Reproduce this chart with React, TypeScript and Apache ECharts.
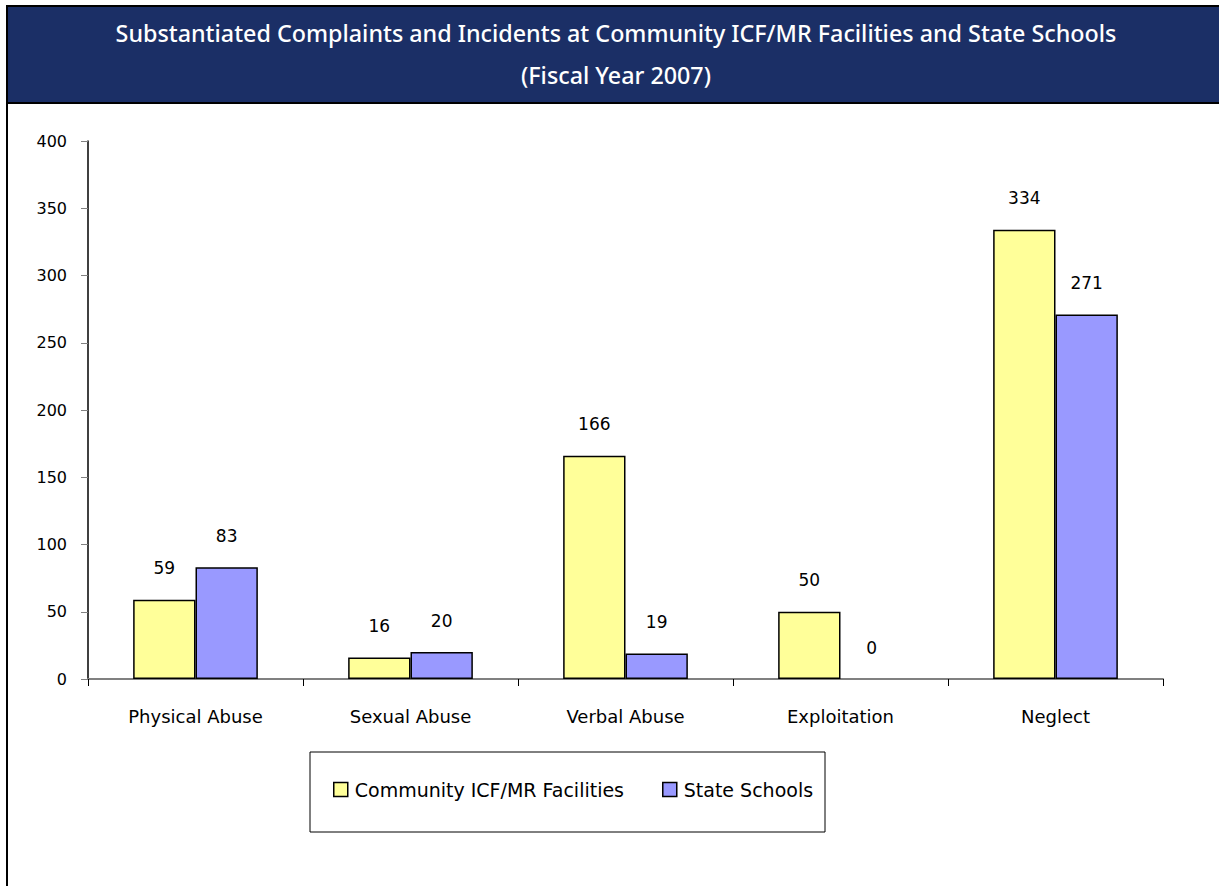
import React, { useEffect, useRef } from "react";
import * as echarts from "echarts";

const categories = ["Physical Abuse", "Sexual Abuse", "Verbal Abuse", "Exploitation", "Neglect"];
const communityValues = [59, 16, 166, 50, 334];
const stateSchoolValues = [83, 20, 19, 0, 271];
const seriesNames = ["Community ICF/MR Facilities", "State Schools"];
const titleLines = [
  "Substantiated Complaints and Incidents at Community ICF/MR Facilities and State Schools",
  "(Fiscal Year 2007)",
];

const FONT = "DejaVu Sans";
const TITLE_FONT = "Noto Sans";

export default function App() {
  const ref = useRef<HTMLDivElement>(null);
  useEffect(() => {
    if (!ref.current) return;
    const chart = echarts.init(ref.current, null, { renderer: "svg" });
    const labelStyle = {
      show: true,
      position: "top" as const,
      distance: 23,
      color: "#000",
      fontFamily: FONT,
      fontSize: 17,
    };
    const toData = (vals: number[]) =>
      vals.map((v) => (v === 0 ? { value: v, itemStyle: { borderWidth: 0 } } : v));
    chart.setOption({
      animation: false,
      backgroundColor: "#fff",
      textStyle: { fontFamily: FONT },
      grid: { left: 88, right: 56, top: 141, bottom: 207, containLabel: false },
      legend: {
        left: 333,
        top: 780,
        icon: "rect",
        itemWidth: 14,
        itemHeight: 14,
        itemGap: 38,
        padding: 0,
        textStyle: { fontFamily: FONT, fontSize: 19, color: "#000", padding: [0, 0, 0, 2] },
        data: seriesNames.map((n) => ({ name: n, itemStyle: { borderColor: "#000", borderWidth: 1.5 } })),
      },
      xAxis: {
        type: "category",
        data: categories,
        axisLine: { lineStyle: { color: "#808080", width: 2 } },
        axisTick: { show: true, length: 7, lineStyle: { color: "#000" } },
        axisLabel: { color: "#000", fontFamily: FONT, fontSize: 18, margin: 28 },
      },
      yAxis: {
        type: "value",
        min: 0,
        max: 400,
        interval: 50,
        axisLine: { show: true, lineStyle: { color: "#000", width: 1.5 } },
        axisTick: { show: true, length: 7, lineStyle: { color: "#808080" } },
        axisLabel: { color: "#000", fontFamily: FONT, fontSize: 16, margin: 21 },
        splitLine: { show: false },
      },
      series: [
        {
          name: seriesNames[0],
          type: "bar",
          data: toData(communityValues),
          barGap: "0%",
          barCategoryGap: "42%",
          itemStyle: { color: "#FFFF99", borderColor: "#000", borderWidth: 1.5 },
          label: labelStyle,
        },
        {
          name: seriesNames[1],
          type: "bar",
          data: toData(stateSchoolValues),
          barGap: "0%",
          barCategoryGap: "42%",
          itemStyle: { color: "#9999FF", borderColor: "#000", borderWidth: 1.5 },
          label: labelStyle,
        },
      ],
      graphic: [
        {
          type: "rect",
          shape: { x: 7, y: 6, width: 1230, height: 900 },
          style: { fill: "none", stroke: "#000", lineWidth: 2 },
          silent: true,
        },
        {
          type: "rect",
          shape: { x: 8, y: 7, width: 1220, height: 95 },
          style: { fill: "#1B2F66" },
          silent: true,
        },
        {
          type: "line",
          shape: { x1: 8, y1: 103, x2: 1219, y2: 103 },
          style: { stroke: "#000", lineWidth: 2 },
          silent: true,
        },
        {
          type: "text",
          x: 616,
          y: 33,
          style: {
            text: titleLines[0],
            fill: "#fff",
            font: `500 23.3px '${TITLE_FONT}'`,
            align: "center",
            verticalAlign: "middle",
          },
          silent: true,
        },
        {
          type: "text",
          x: 616,
          y: 75,
          style: {
            text: titleLines[1],
            fill: "#fff",
            font: `500 23.3px '${TITLE_FONT}'`,
            align: "center",
            verticalAlign: "middle",
          },
          silent: true,
        },
        {
          type: "rect",
          shape: { x: 310, y: 752, width: 515, height: 80 },
          style: { fill: "none", stroke: "#000", lineWidth: 1 },
          silent: true,
        },
      ],
    });
    return () => chart.dispose();
  }, []);
  return (
    <div
      ref={ref}
      style={{ position: "absolute", left: 0, top: 0, width: 1219, height: 886 }}
    />
  );
}
